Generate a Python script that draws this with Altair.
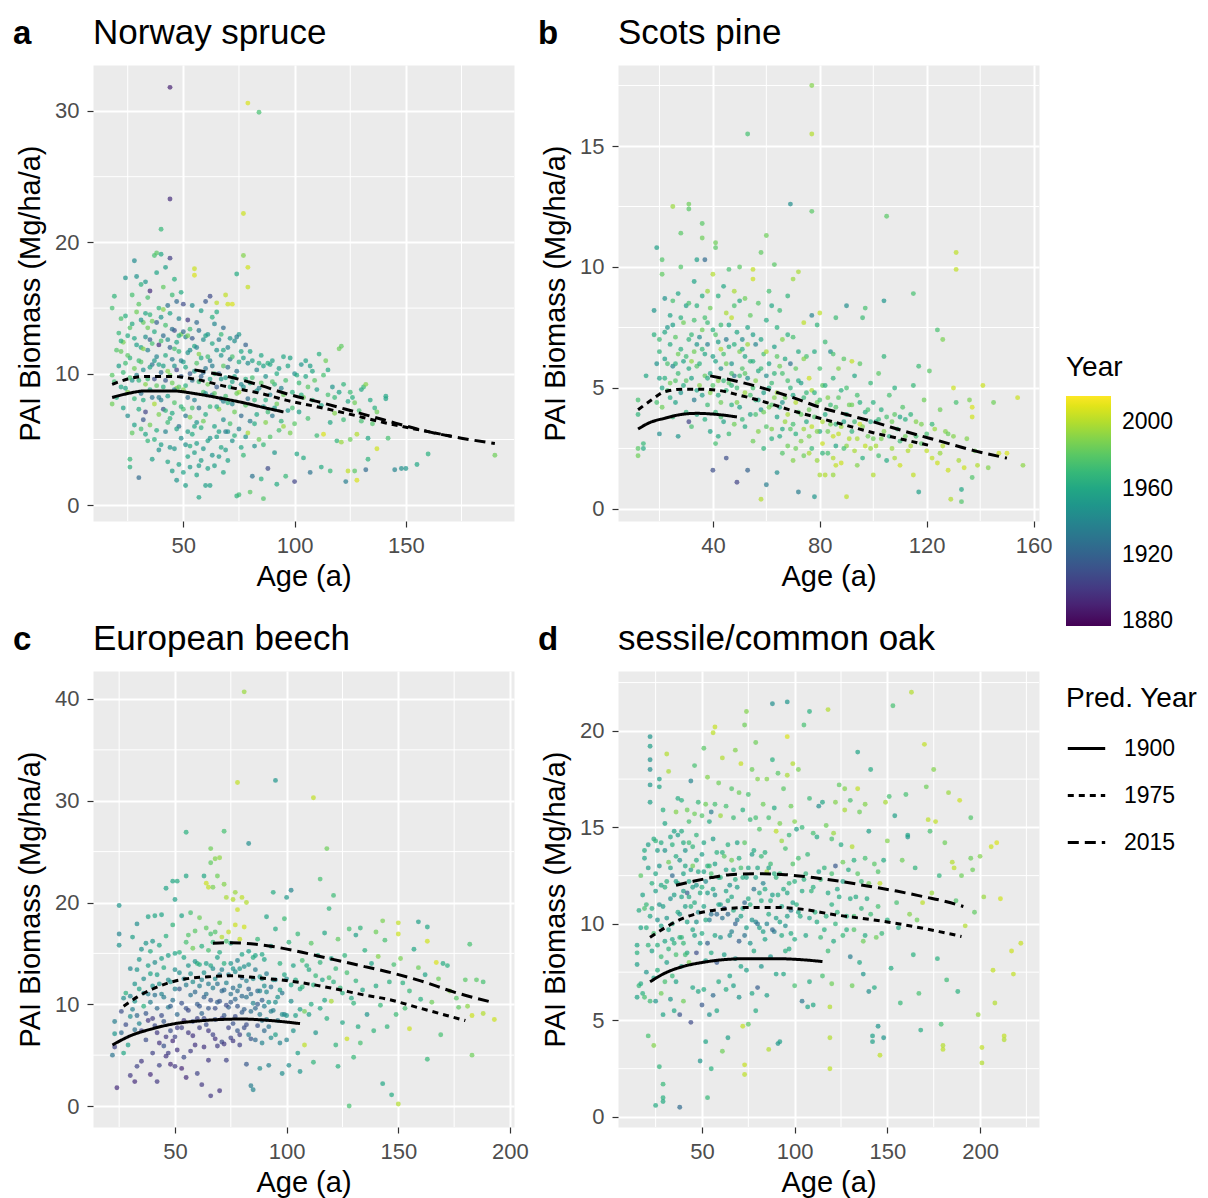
import altair as alt
import pandas as pd

FONT = "Liberation Sans"

# ---------------- Panel a: Norway spruce (age, PAI, year) ----------------
A_POINTS = [
    (18,15.0,1975),(19,15.9,1968),(18,9.9,1980),(18,7.7,1985),(19,9.4,1972),(20,8.2,1962),(20,11.8,1978),(21,13.1,1970),
    (21,10.6,1955),(22,11.7,1983),(22,9.0,1960),(22,14.2,1976),(23,12.4,1988),(23,7.4,1958),(24,14.4,1965),(24,10.8,1973),
    (24,17.3,1950),(25,8.6,1990),(25,12.9,1962),(25,6.8,1945),(26,13.5,1979),(26,11.2,1968),(26,3.5,1970),(26,2.9,1966),
    (27,9.5,1952),(27,16.0,1975),(27,5.5,1982),(28,12.7,1960),(28,18.6,1944),(28,6.1,1957),(29,14.7,1985),(29,9.9,1940),
    (29,17.4,1948),(30,2.1,1925),(30,7.3,1963),(30,11.0,1972),(30,15.3,1980),
    (31,16.8,1966),(31,12.0,1958),(31,8.5,1930),(31,5.8,1974),(32,13.9,1983),(32,10.3,1947),(32,6.5,1915),(33,17.0,1952),
    (33,14.6,1960),(33,9.2,1990),(33,7.1,1905),(34,11.8,1938),(34,15.8,1976),(34,4.9,1969),(35,16.3,1895),(35,12.6,1920),
    (35,8.8,1961),(35,6.1,1986),(36,14.0,1985),(36,10.7,1932),(36,3.5,1955),(37,19.0,1975),(37,13.2,1962),(37,9.6,1910),
    (37,7.7,1998),(38,17.7,1958),(38,11.3,1940),(38,5.7,1964),(38,19.2,1980),(39,15.0,1968),(39,12.2,1896),(39,8.2,1935),
    (39,6.9,1988),(40,21.0,1970),(40,19.1,1960),(40,14.3,1949),(40,10.1,1925),(40,4.6,1955),
    (41,16.6,1982),(41,12.9,1927),(41,9.0,1965),(41,7.3,1912),(42,18.1,1955),(42,13.7,1975),(42,11.4,1962),(42,5.6,1940),
    (43,15.2,1930),(43,10.2,1990),(43,8.3,1955),(43,3.3,1960),(44,31.8,1890),(44,23.3,1895),(44,18.8,1902),(44,14.6,1958),
    (44,12.0,1920),(44,6.6,1967),(45,16.0,1972),(45,11.1,1935),(45,9.3,1985),(45,2.6,1955),(46,17.2,1965),(46,13.3,1910),
    (46,10.6,1948),(46,7.8,1978),(46,4.3,1952),(47,15.5,1925),(47,12.4,1960),(47,8.9,1993),(47,1.9,1950),(48,14.2,1940),
    (48,11.7,1970),(48,6.0,1930),(48,3.1,1958),(49,16.2,1962),(49,13.0,1985),(49,9.8,1918),(49,5.1,1945),(50,15.3,1908),
    (50,10.9,1955),(50,7.3,1975),(50,2.5,1957),
    (51,12.8,1935),(51,9.1,1965),(51,4.6,1948),(51,1.5,1956),(52,14.1,1900),(52,11.6,1950),(52,8.2,1928),(52,3.7,1960),
    (53,13.4,1972),(53,10.0,1915),(53,6.7,1988),(53,2.9,1953),(54,15.2,1944),(54,9.5,1930),(54,5.4,1962),(55,18.0,2005),
    (55,17.5,2008),(55,12.1,1960),(55,8.0,1938),(55,4.0,1955),(56,13.9,1925),(56,10.8,1978),(56,6.3,1950),(56,2.3,1958),
    (57,11.5,1990),(57,7.4,1930),(57,3.0,1954),(57,0.6,1960),(58,14.8,1955),(58,9.8,1922),(58,5.9,1965),(59,12.6,1945),
    (59,8.6,1975),(59,4.3,1952),(60,10.4,1932),(60,6.9,1962),(60,1.5,1956),(60,15.5,1915),
    (61,13.0,1950),(61,9.2,1985),(61,4.9,1957),(62,15.9,1908),(62,11.0,1938),(62,7.5,1970),(62,1.5,1955),(63,12.3,1960),
    (63,8.4,1927),(63,3.8,1950),(64,13.8,1942),(64,10.0,1972),(64,6.0,1958),(65,14.7,1962),(65,9.0,1918),(65,5.2,1955),
    (65,15.4,2002),(66,12.6,1935),(66,7.3,1990),(66,3.7,1953),(67,11.4,1950),(67,8.1,1930),(67,4.4,1960),(68,13.5,1925),
    (68,10.6,1980),(68,6.5,1945),(68,2.5,1960),(69,16.0,2003),(69,9.7,1955),(69,5.6,1935),(70,15.3,2006),(70,12.0,1940),
    (70,7.8,1965),(70,3.4,1958),
    (71,11.1,1932),(71,6.2,1975),(72,15.3,2008),(72,9.4,1958),(72,4.9,1948),(73,12.5,1945),(73,7.1,1985),(74,17.6,1962),
    (74,10.2,1930),(74,0.7,1966),(75,13.0,1952),(75,8.6,1995),(75,5.8,1940),(75,0.8,1972),(76,11.7,1960),(76,6.8,1925),
    (77,22.2,2005),(77,19.0,1990),(77,9.0,1948),(77,3.8,1970),(78,12.2,1920),(78,7.6,1980),(79,30.6,2008),(79,18.1,2006),
    (79,16.6,2004),(79,10.8,1945),(79,5.5,1998),(80,9.3,1962),(80,6.4,1935),(80,1.0,1980),
    (81,2.2,1930),(81,11.0,1955),(82,8.0,1970),(82,4.5,1948),(83,10.3,1942),(83,6.9,1960),(84,29.9,1975),(84,8.9,1935),
    (84,5.0,1985),(85,11.4,1960),(85,2.0,1965),(86,7.5,1952),(86,4.6,1970),(86,0.5,1978),(87,9.8,1948),(87,6.3,1990),
    (88,10.8,1965),(88,2.8,1908),(89,8.4,1940),(89,5.2,1978),(90,11.0,1957),(90,6.8,1932),(91,9.2,1968),(91,4.0,1950),
    (92,7.7,1985),(92,1.6,1962),(93,10.4,1955),(93,5.7,1975),(94,8.9,1940),(95,11.3,1960),(95,6.0,1995),(96,9.5,1975),
    (96,2.2,1970),(97,7.2,1950),(98,11.2,1958),(98,5.5,1988),(99,8.6,1965),(100,10.0,1945),(100,6.2,1980),(100,1.8,1905),
    (101,3.9,1960),(102,9.3,1972),(102,7.1,1955),(103,10.7,1950),(104,8.2,1985),(104,3.6,1962),(105,9.8,1960),(106,6.6,1975),
    (107,10.6,1955),(107,2.5,1930),(108,8.0,1968),(109,9.5,1980),(110,5.3,1972),(111,11.5,1965),(112,7.6,1958),(112,2.9,1962),
    (113,5.4,2008),(114,11.0,1985),(115,8.4,1975),(116,6.3,1960),(116,2.6,1970),(117,9.0,1950),(118,7.0,1990),(119,4.9,1968),
    (120,8.6,1958),(120,11.9,1985),(121,12.1,1982),(121,4.8,1995),(122,6.5,1972),(123,1.8,1935),(124,2.6,2003),(124,7.9,1960),
    (125,5.0,1985),(126,8.2,1965),(127,2.6,1980),(128,5.4,2000),(128,1.9,2008),(129,7.2,1975),(130,8.8,1960),(131,9.0,1970),
    (132,9.2,1990),(132,2.7,1925),(133,5.1,1960),(133,3.5,1968),(135,6.2,1978),(136,7.4,1965),(137,7.1,1985),(137,4.3,2006),
    (141,8.3,1960),(141,8.1,1958),(142,5.1,1975),(145,2.7,1940),(148,2.8,1945),(150,2.8,1950),(155,3.1,1960),(160,3.9,1965),
    (190,3.8,1985),
]
A_POINTS_CORE = [
    (22,12.5,1965),(23,10.1,1972),(24,8.9,1958),(25,11.4,1980),(26,9.7,1975),(27,13.8,1962),(28,10.4,1985),(28,8.1,1970),
    (29,12.2,1955),(30,9.5,1968),(31,10.9,1978),(31,14.1,1950),(32,8.0,1962),(32,11.9,1990),(33,12.8,1945),(33,5.4,1960),
    (34,9.6,1972),(34,13.5,1985),(35,10.5,1958),(35,14.5,1968),(36,8.2,1930),(36,12.3,1975),(37,11.0,1952),(37,5.0,1965),
    (38,9.1,1982),(38,13.9,1920),(39,10.7,1960),(39,4.2,1948),(40,12.5,1975),(40,8.0,1938),(41,10.6,1955),(41,14.9,1990),
    (42,9.5,1915),(42,7.2,1968),(43,12.6,1945),(43,6.3,1972),(44,9.9,1985),(44,4.4,1950),(45,13.4,1928),(45,7.0,1962),
    (46,11.9,1975),(46,8.8,1935),(47,10.3,1905),(47,5.8,1958),(48,12.9,1962),(48,9.0,1980),(49,11.0,1940),(49,7.5,1968),
    (50,13.2,1925),(50,8.8,1990),(51,10.5,1960),(51,6.8,1932),(52,12.9,1985),(52,5.6,1955),(53,11.8,1945),(53,4.5,1962),
    (54,12.7,1915),(54,7.4,1975),(55,10.2,1952),(55,6.0,1960),(56,12.0,1940),(56,4.7,1956),(57,9.4,1970),(57,13.3,1930),
    (58,11.2,1962),(58,3.4,1955),(59,10.1,1925),(59,6.4,1985),(60,12.9,1955),(60,8.5,1945),(61,11.3,1972),(61,2.8,1957),
    (62,9.6,1960),(62,5.1,1950),(63,10.6,1935),(63,14.3,1965),(64,8.5,1980),(64,3.0,1955),(65,11.8,1948),(65,7.5,1962),
    (66,10.0,1920),(66,5.6,1958),(67,13.0,1970),(67,9.6,1952),(68,7.9,1938),(68,11.8,1960),(69,8.3,1975),(69,4.2,1956),
    (70,10.5,1930),(70,5.6,1945),(71,9.0,1962),(71,12.7,1950),(72,7.7,1940),(72,11.3,1975),(73,9.8,1958),(73,5.3,1966),
    (74,8.5,1985),(74,12.8,1935),(75,10.9,1962),(76,9.2,1942),(76,4.4,1960),(77,11.2,1955),(78,9.6,1965),(78,5.2,1950),
    (79,8.1,1930),(80,11.7,1958),(81,9.7,1975),(82,6.2,1962),(83,8.7,1950),(84,10.8,1965),(85,9.3,1980),(86,10.6,1958),
    (87,8.0,1965),(88,7.1,1972),(89,10.7,1960),(90,9.4,1978),(91,7.4,1955),(92,10.0,1962),(94,6.4,1968),(95,8.4,1985),
    (97,10.6,1960),(99,7.4,1975),(101,9.9,1962),(103,8.4,1965),(105,11.0,1958),(106,9.0,1980),(108,10.2,1960),(110,8.8,1955),
    (113,9.9,1975),(115,10.3,1962),(118,8.2,1970),(122,9.2,1968),(125,8.6,1972),(127,7.8,1985),(130,6.4,1975),(134,8.0,1962),
]
A_LINES = {
    "1900": [(18,8.2),(25,8.5),(33,8.7),(45,8.7),(55,8.5),(65,8.2),(77,7.8),(87,7.4),(95,7.1)],
    "1975": [(18,9.2),(25,9.6),(33,9.8),(45,9.8),(55,9.6),(70,9.0),(85,8.5),(96,8.0),(110,7.5),(123,7.0),(140,6.3),(160,5.6),(172,5.2)],
    "2015": [(55,10.3),(70,9.8),(85,9.1),(96,8.5),(110,7.9),(123,7.3),(140,6.5),(160,5.6),(175,5.1),(190,4.7)],
}

# ---------------- Panel b: Scots pine ----------------
B_POINTS = [
    (12,4.5,1975),(12,3.9,1968),(12,2.5,1980),(12,2.2,1985),(14,2.7,1970),(14,2.5,1962),(15,5.5,1960),(18,7.2,1965),
    (18,8.2,1950),(19,10.8,1955),(19,6.0,1948),(19,4.4,1975),(20,3.1,1945),(20,5.4,1958),(20,7.0,1972),(21,10.3,1978),
    (21,9.7,1982),(21,5.0,1960),(21,4.2,1985),(22,8.7,1948),(22,6.2,1955),(22,5.4,1965),(23,7.5,1952),(23,4.9,1976),
    (24,8.0,1958),(24,6.8,1962),(24,5.2,1985),(25,12.5,1995),(25,8.6,1975),(25,5.9,1942),(25,3.8,1970),(26,7.1,1980),
    (26,6.0,1965),(26,4.4,1958),(27,8.9,1960),(27,5.6,1972),(27,3.0,1950),(28,11.4,1980),(28,10.0,1978),(28,6.6,1965),
    (28,4.8,1950),(29,7.7,1985),(29,5.1,1962),(30,8.4,1955),(30,6.3,1972),(30,4.0,1968),
    (31,12.6,1985),(31,12.4,1980),(31,8.5,1975),(31,5.8,1962),(31,3.6,1905),(32,7.2,1970),(32,5.4,1958),(32,3.4,1975),
    (33,9.4,1958),(33,6.5,1985),(33,4.5,1935),(34,10.3,1955),(34,8.4,1965),(34,5.9,1978),(34,3.9,1962),(35,7.1,1945),
    (35,5.1,1990),(36,11.8,1980),(36,11.2,1985),(36,8.8,1962),(36,6.6,1970),(36,4.7,1955),(37,10.3,1925),(37,7.9,1975),
    (37,5.5,1982),(37,3.7,1965),(38,9.0,1995),(38,6.8,1940),(38,4.3,1972),(39,8.3,1985),(39,5.6,1960),(39,3.2,1958),
    (40,9.7,2000),(40,7.4,1965),(40,5.1,1978),(40,1.6,1910),(41,11.0,1985),(41,10.8,1980),(41,6.1,1958),(41,4.0,1970),
    (41,2.7,1975),(42,8.8,1965),(42,6.9,1955),(42,5.3,1990),(42,3.0,1962),(43,7.6,1972),(43,5.8,1948),(43,4.4,1985),
    (44,9.2,1960),(44,6.4,1975),(44,3.6,1958),(45,8.1,1998),(45,7.0,1935),(45,4.9,1968),(45,2.1,1910),
    (46,9.9,1975),(46,6.7,1962),(46,5.2,1980),(46,3.1,1972),(47,7.9,2002),(47,6.0,1950),(47,4.3,1965),(48,9.0,1998),
    (48,8.4,1975),(48,5.5,1935),(48,3.5,1985),(49,7.3,1960),(49,5.0,1972),(49,1.1,1905),(50,10.0,1980),(50,8.6,1962),
    (50,6.5,1988),(50,4.2,1958),(51,7.0,1945),(51,5.8,1978),(51,3.7,1970),(52,8.7,1985),(52,6.3,1960),(52,4.8,1995),
    (53,15.5,1975),(53,7.5,1958),(53,5.4,1948),(53,1.6,1920),(54,8.0,1982),(54,6.1,1968),(54,3.9,1960),(55,9.9,2003),
    (55,9.5,2005),(55,7.2,1955),(55,5.0,1975),(55,2.8,1985),(56,6.8,1940),(56,4.5,1968),(57,8.5,1978),(57,5.7,1962),
    (57,3.2,1990),(58,10.6,1982),(58,7.0,1960),(58,4.1,1950),(58,0.4,2000),(59,6.4,1975),(59,4.8,1955),(59,2.5,1968),
    (60,11.3,1985),(60,7.8,1962),(60,5.5,1945),(60,3.4,1978),(60,1.0,1935),
    (61,9.0,1975),(61,6.0,1958),(61,4.2,1988),(62,8.4,1960),(62,5.2,1972),(62,2.9,1965),(63,10.1,1980),(63,6.7,1955),
    (63,4.6,1990),(64,7.5,1965),(64,3.8,1958),(64,1.5,1945),(65,8.2,1972),(65,5.9,1985),(65,3.0,1962),(66,7.0,1990),
    (66,4.4,1950),(66,2.3,1978),(67,6.2,1962),(67,3.6,1995),(68,8.8,1968),(68,5.3,1975),(68,2.6,1985),(69,12.6,1945),
    (69,6.0,1930),(69,3.3,1980),(70,9.5,1995),(70,7.1,1975),(70,4.7,1960),(70,2.0,1990),(71,5.8,1982),(71,3.1,1965),
    (72,9.8,1998),(72,6.5,1962),(72,4.0,1978),(72,0.7,1935),(73,5.2,1955),(73,2.8,1990),(74,7.7,2002),(74,4.6,1970),
    (74,2.2,1985),(75,6.3,1975),(75,3.6,1962),(76,5.4,2005),(76,3.0,1988),(77,17.5,1990),(77,15.5,2000),(77,12.3,1980),
    (77,8.0,1940),(77,4.9,1998),(77,2.5,1970),(78,0.5,1950),(78,6.5,1962),(78,3.8,1978),(79,7.6,1968),(79,4.4,1985),
    (79,2.0,1995),(80,8.1,2002),(80,5.8,1975),(80,3.2,1960),(80,1.4,1998),
    (81,5.1,1980),(81,2.7,2005),(82,6.9,1972),(82,3.9,1962),(82,1.4,2000),(83,4.6,1990),(83,2.3,1975),(84,6.5,1945),
    (84,3.5,1985),(85,5.4,1968),(85,2.1,2000),(85,1.4,1995),(86,7.9,1972),(86,4.2,1978),(86,2.6,1960),(87,5.8,1990),
    (87,3.1,2003),(88,4.9,1965),(88,1.9,2005),(89,6.2,1980),(89,3.6,1958),(90,8.4,1945),(90,5.0,1975),(90,2.6,1992),
    (90,0.5,2002),(91,4.3,1985),(92,6.1,2003),(92,3.2,1968),(93,5.5,1960),(93,2.4,1998),(94,4.7,1975),(94,1.8,1990),
    (95,6.0,1980),(95,3.5,2005),(96,7.9,1972),(96,2.1,1965),(97,8.3,1975),(97,4.0,1962),(98,3.0,1985),(99,5.2,1970),
    (99,2.5,1995),(100,4.4,1965),(100,1.4,2000),
    (101,3.6,1958),(102,5.6,1980),(102,2.2,1975),(103,4.1,1965),(104,8.6,1950),(104,6.3,1968),(104,3.2,1990),(105,12.1,1980),
    (105,2.0,1962),(106,4.7,1975),(107,3.6,1985),(108,2.1,1998),(108,5.0,1965),(109,3.3,1972),(110,3.8,1960),(110,1.8,2005),
    (111,4.2,1978),(112,3.0,1985),(113,2.4,2000),(114,3.9,1968),(115,8.9,1975),(115,5.1,1970),(115,1.4,2003),(116,3.6,1990),
    (117,5.9,1972),(117,0.7,1955),(118,2.7,1980),(119,4.5,1985),(120,3.1,1975),(121,5.7,1980),(122,2.1,2003),(123,3.3,1995),
    (124,7.4,1975),(124,1.9,2005),(125,4.1,1985),(126,7.0,1988),(126,2.6,2000),(127,3.2,1990),(128,1.6,2005),(129,0.4,2000),
    (130,5.0,2005),(130,3.0,1990),(131,10.6,2002),(131,9.9,2003),(131,4.4,1975),(132,2.0,1998),(133,0.8,1960),(133,0.3,1978),
    (134,1.7,2005),(135,2.9,1990),(136,4.5,1988),(137,4.2,2008),(137,3.8,2006),(137,1.3,1978),(138,2.4,1985),(139,1.8,2000),
    (141,5.1,2005),(143,1.7,1990),(145,4.4,1985),(147,2.3,2005),(150,2.3,2008),(154,4.6,2005),(156,1.8,1992),
]
B_POINTS_CORE = [
    (20,6.5,1968),(22,7.3,1960),(23,6.0,1975),(24,4.6,1962),(25,7.6,1955),(26,5.3,1978),(27,6.4,1985),(28,7.9,1965),
    (29,6.1,1958),(30,5.3,1980),(31,7.0,1968),(32,6.1,1992),(33,7.8,1975),(34,6.8,1950),(35,6.0,1965),(36,7.4,1985),
    (37,6.4,1960),(38,7.7,1972),(39,4.8,1990),(40,6.3,1955),(41,7.2,1978),(42,4.7,1962),(43,6.6,1998),(44,5.3,1970),
    (45,6.0,1985),(46,7.6,1958),(47,5.6,1975),(48,6.8,1965),(49,4.4,1988),(50,5.5,1972),(51,6.6,1962),(52,5.6,1980),
    (53,6.8,1995),(54,4.7,1975),(55,6.1,1965),(56,5.3,1990),(57,4.5,1958),(58,5.8,1972),(59,4.0,1985),(60,6.5,1998),
    (61,5.0,1962),(62,4.3,1978),(63,5.6,1968),(64,4.8,1995),(65,4.2,1960),(66,5.6,1975),(67,4.6,1985),(68,3.9,1998),
    (69,5.0,1968),(70,3.5,1975),(71,4.4,2000),(72,5.3,1962),(73,3.9,1982),(74,3.3,1995),(75,4.8,1970),(76,4.1,1985),
    (77,3.4,2002),(78,4.8,1965),(79,3.2,1990),(80,4.5,1975),(81,3.6,1998),(82,5.1,1965),(83,3.2,1985),(84,4.3,1972),
    (85,3.0,2004),(86,3.5,1968),(87,4.6,1980),(88,3.4,1995),(89,2.5,1975),(90,3.9,1962),(91,2.9,2000),(92,4.3,1985),
    (93,3.6,1972),(94,2.9,1998),(95,4.4,1965),(96,3.4,1990),(97,2.6,2003),(98,4.1,1975),(99,3.6,1962),(100,2.9,1985),
    (101,2.6,1998),(102,3.7,1970),(103,2.9,1988),(105,3.8,1975),(106,3.0,1965),(107,2.5,1995),(108,3.9,1980),(110,2.8,1972),
    (112,3.7,1965),(114,2.6,1998),(116,3.0,1975),(118,3.5,1988),(120,2.4,2003),(122,3.5,1970),(125,2.3,1995),(128,3.1,1985),
    (34,4.9,1958),(38,5.4,1962),(43,3.8,1975),(47,5.1,1968),(52,3.4,1962),(56,3.9,1975),(62,3.3,1990),(66,3.3,1962),
    (71,2.5,1985),(76,2.3,1998),(81,2.3,1968),(86,1.8,2003),(64,6.3,1980),(68,7.2,1965),(74,6.2,1990),(85,6.4,1975),
]
B_LINES = {
    "1900": [(12,3.3),(16,3.55),(22,3.75),(28,3.9),(34,3.95),(42,3.9),(49,3.8)],
    "1975": [(12,4.1),(17,4.5),(22,4.85),(29,4.95),(35,4.95),(42,4.9),(50,4.7),(60,4.4),(70,4.05),(80,3.75),(90,3.45),(100,3.15),(110,2.9),(122,2.6)],
    "2015": [(39,5.5),(50,5.25),(60,4.95),(70,4.6),(80,4.2),(90,3.9),(100,3.6),(112,3.2),(125,2.8),(138,2.4),(150,2.1)],
}

# ---------------- Panel c: European beech ----------------
C_POINTS = [
    (22,5.0,1930),(23,5.8,1905),(23,7.1,1950),(23,8.3,1935),(24,1.8,1895),(25,19.7,1950),(25,16.9,1940),(25,15.8,1948),
    (26,9.3,1910),(26,7.2,1925),(27,10.6,1945),(27,5.2,1960),(28,11.1,1965),(29,6.0,1955),(30,3.0,1900),(30,8.8,1945),
    (30,13.5,1942),(31,9.5,1938),(31,16.6,1955),(32,2.4,1895),(32,10.3,1950),(32,7.5,1930),(33,17.9,1945),(33,13.4,1950),
    (33,3.9,1905),(34,8.1,1940),(34,11.5,1958),(35,15.4,1948),(35,4.4,1900),(36,9.8,1965),(36,12.5,1945),(37,16.0,1950),
    (37,6.5,1910),(38,8.4,1900),(38,13.8,1955),(38,18.6,1958),(39,3.1,1895),(39,10.2,1935),(39,15.2,1962),(40,5.2,1905),
    (40,11.8,1948),(40,16.2,1952),
    (41,18.7,1960),(41,7.9,1908),(41,14.1,1945),(42,2.4,1900),(42,9.6,1925),(42,12.9,1955),(43,15.8,1960),(43,6.2,1898),
    (43,4.0,1905),(44,18.8,1958),(44,11.0,1940),(45,13.6,1962),(45,5.9,1912),(45,8.3,1915),(46,16.7,1965),(46,21.4,1958),
    (46,4.9,1898),(47,14.8,1955),(47,9.7,1935),(47,5.2,1902),(48,12.2,1948),(48,7.4,1910),(48,4.1,1895),(49,22.1,1960),
    (49,17.8,1968),(49,10.4,1930),(50,20.3,1955),(50,13.4,1945),(50,6.8,1905),(50,3.9,1900),(51,22.1,1962),(51,9.0,1925),
    (51,5.5,1898),(52,15.1,1965),(52,11.5,1915),(53,18.7,1958),(53,7.7,1905),(53,3.7,1893),(54,12.5,1940),(54,4.8,1908),
    (55,26.9,1965),(55,22.6,1960),(55,16.1,1975),(55,9.6,1912),(55,2.8,1895),(56,13.8,1950),(56,7.2,1900),(57,19.0,1975),
    (57,10.9,1930),(57,5.4,1902),(58,15.5,1985),(58,12.2,1945),(58,8.3,1910),(59,17.2,1980),(59,6.0,1898),(60,14.0,1968),
    (60,10.0,1918),(60,3.2,1905),
    (61,18.5,1985),(61,11.8,1935),(61,7.7,1905),(62,15.7,1965),(62,9.1,1922),(62,2.1,1900),(63,22.6,1960),(63,13.1,1948),
    (63,5.8,1898),(64,21.9,2005),(64,17.5,1982),(64,11.0,1930),(64,8.0,1910),(65,21.5,2003),(65,15.3,1975),(65,9.6,1915),
    (65,4.5,1900),(66,25.3,1985),(66,23.9,1982),(66,13.8,1960),(66,1.0,1900),(67,21.5,1988),(67,16.1,1970),(67,11.6,1935),
    (67,7.0,1905),(68,24.3,1990),(68,17.1,1978),(68,12.5,1945),(68,8.5,1912),(69,22.6,1985),(69,14.6,1955),(69,10.2,1920),
    (69,5.9,1902),(70,24.4,1993),(70,18.0,1985),(70,12.9,1935),(70,1.5,1898),(71,16.6,2000),(71,11.3,1925),(71,6.3,1908),
    (72,27.0,1975),(72,21.8,1990),(72,14.0,1965),(72,8.9,1915),(73,20.5,1998),(73,12.1,1940),(73,4.5,1905),(74,17.1,2003),
    (74,9.7,1920),(75,16.0,1960),(75,11.0,1930),(75,6.7,1905),(76,20.3,2000),(76,13.5,1948),(76,8.1,1912),(77,21.0,1995),
    (77,17.8,2005),(77,10.5,1925),(78,31.8,2003),(78,19.3,2005),(78,14.3,1940),(78,7.4,1915),(79,16.4,2004),(79,11.8,1935),
    (79,6.0,1905),(80,20.5,2002),(80,12.6,1925),(80,9.2,1918),
    (81,40.7,1995),(81,17.6,2006),(81,13.7,1945),(81,7.7,1910),(82,20.0,2000),(82,10.7,1930),(82,4.1,1915),(83,25.8,1945),
    (83,15.2,1955),(83,11.5,1920),(83,7.0,1935),(84,9.3,1928),(84,2.0,1935),(85,14.6,1962),(85,10.1,1940),(85,1.6,1940),
    (86,13.4,1935),(86,6.5,1925),(87,16.4,1970),(87,11.3,1925),(87,7.9,1912),(88,12.7,1950),(88,9.0,1935),(88,3.7,1945),
    (89,14.9,1960),(89,10.4,1920),(89,6.2,1940),(90,11.8,1945),(90,7.4,1925),(91,18.6,1958),(91,13.0,1935),(91,8.5,1940),
    (92,10.2,1950),(92,4.0,1938),(93,15.7,1955),(93,11.7,1930),(93,6.7,1945),(94,9.4,1935),(94,21.0,1962),(95,32.0,1950),
    (95,17.4,1962),(95,12.4,1940),(95,7.0,1955),(96,10.7,1948),(97,14.0,1965),(97,6.2,1940),(98,11.1,1932),(98,3.2,1945),
    (99,18.4,1972),(99,9.0,1938),(100,20.5,1952),(100,12.5,1945),(100,6.5,1940),
    (101,16.1,1968),(101,4.0,1945),(102,21.2,1940),(102,10.3,1945),(103,13.8,1958),(104,8.9,1955),(105,16.9,1970),(105,5.2,1955),
    (106,11.5,1960),(106,3.4,1950),(107,14.3,1975),(108,9.3,1985),(108,6.0,2002),(110,13.4,1962),(110,9.0,1955),(111,16.0,1980),
    (112,30.3,2003),(112,11.9,1965),(112,4.3,1968),(113,7.2,1950),(114,14.8,1962),(115,22.3,1975),(115,9.6,1960),(116,12.4,1958),
    (117,17.0,1960),(118,25.3,1985),(118,8.6,1965),(119,19.4,1968),(120,10.3,1998),(120,14.5,1958),(121,20.7,1972),(121,12.2,1965),
    (122,6.0,1968),(123,16.4,1982),(123,3.9,1965),(124,11.6,1970),(125,8.2,1960),(126,14.8,1968),(127,6.6,2005),(128,17.4,1975),
    (128,0.0,1975),(129,10.6,1962),(130,4.8,1970),(131,16.8,1955),(131,12.3,1968),(132,7.8,1962),(133,17.5,1968),(133,6.2,1975),
    (134,11.4,1960),(135,15.3,1965),(136,9.0,1950),(138,14.0,1958),(139,7.4,1968),(140,11.8,1962),(140,17.1,1985),(141,14.7,1990),
    (142,9.9,1970),(143,18.2,1988),(143,2.2,1960),(144,16.3,1975),(145,7.8,1968),(146,12.2,1965),(147,1.1,1962),(148,13.9,1975),
    (149,9.0,1972),(150,18.0,2003),(150,16.9,2005),(150,0.2,2000),(151,14.5,1988),(152,12.1,1965),(153,9.6,1975),(155,11.3,1970),
    (155,7.6,2005),(157,15.4,1960),(159,13.6,1985),(159,18.1,1955),(160,10.5,1965),(162,12.9,1958),(163,17.6,1960),(163,16.2,2006),
    (163,4.6,1970),(165,10.2,1985),(167,14.1,2008),(168,12.5,1985),(169,7.0,1975),(170,14.0,1962),(172,13.8,1965),(173,11.3,1990),
    (176,10.6,1980),(177,9.7,1982),(180,12.4,1980),(181,9.8,1992),(182,15.9,1975),(183,5.0,1985),(183,8.9,2005),(185,12.4,1980),
    (188,12.2,1975),(188,9.1,2000),(193,8.5,2005),
]
C_POINTS_CORE = [
    (28,8.0,1910),(30,10.8,1940),(32,12.0,1950),(33,8.9,1925),(34,14.4,1952),(35,7.4,1905),(36,11.1,1945),(37,9.1,1915),
    (38,11.0,1938),(39,13.0,1958),(40,8.6,1902),(41,10.9,1930),(42,7.2,1900),(43,12.0,1950),(44,14.5,1955),(44,8.9,1910),
    (45,10.7,1935),(46,6.8,1900),(47,12.4,1945),(48,9.8,1920),(49,6.4,1895),(50,11.5,1938),(50,15.0,1958),(51,7.7,1902),
    (52,13.1,1945),(53,10.1,1912),(54,8.4,1900),(54,14.6,1960),(55,11.9,1935),(56,9.4,1908),(56,16.8,1978),(57,13.0,1945),
    (58,6.9,1898),(59,11.2,1925),(59,14.2,1952),(60,8.6,1905),(61,13.9,1962),(61,9.8,1915),(62,12.4,1940),(63,8.6,1908),
    (63,10.7,1920),(64,14.0,1955),(65,12.0,1935),(65,7.4,1900),(66,10.4,1912),(66,16.9,1975),(67,13.5,1945),(68,9.6,1910),
    (68,6.6,1898),(69,12.0,1930),(70,10.3,1915),(70,15.1,1962),(71,8.6,1905),(71,13.4,1940),(72,11.4,1925),(72,6.1,1900),
    (73,9.9,1910),(73,16.2,1975),(74,12.9,1938),(74,7.7,1905),(75,10.2,1918),(75,14.0,1950),(76,11.6,1928),(76,6.4,1900),
    (77,13.2,1945),(77,8.8,1910),(78,11.3,1930),(78,9.8,1915),(79,13.5,1952),(79,7.0,1905),(80,10.8,1925),(80,14.9,1958),
    (81,9.5,1920),(82,12.3,1938),(82,8.0,1910),(83,13.9,1950),(84,11.0,1928),(84,6.6,1915),(85,12.5,1945),(86,9.6,1925),
    (86,14.8,1960),(87,10.0,1918),(88,11.3,1940),(89,8.4,1930),(89,12.5,1948),(90,9.8,1935),(90,14.4,1958),(91,11.2,1942),
    (92,7.8,1930),(93,9.3,1938),(94,12.4,1950),(95,10.2,1945),(96,8.4,1935),(97,11.4,1955),(98,9.0,1945),(99,12.9,1960),
    (100,8.9,1950),(102,11.9,1958),(103,7.4,1948),(104,12.4,1962),(106,9.5,1955),(107,11.7,1968),(109,13.8,1965),(111,10.0,1962),
    (113,12.8,1970),(115,14.1,1968),(117,10.4,1960),(119,12.6,1975),(122,13.5,1970),(125,11.1,1965),(127,13.1,1975),(130,10.1,1968),
]
C_LINES = {
    "1900": [(22,6.0),(30,6.9),(40,7.6),(50,8.1),(60,8.35),(70,8.5),(80,8.55),(90,8.45),(100,8.25),(106,8.1)],
    "1975": [(27,9.8),(33,10.7),(40,11.5),(47,12.1),(55,12.5),(65,12.7),(76,12.8),(87,12.6),(97,12.4),(110,12.0),(122,11.5),(135,10.9),(145,10.5),(160,9.6),(170,9.0),(180,8.4)],
    "2015": [(67,16.0),(75,16.05),(84,15.95),(93,15.7),(103,15.3),(115,14.7),(125,14.2),(135,13.7),(145,13.2),(160,12.3),(175,11.2),(192,10.2)],
}

# ---------------- Panel d: sessile/common oak ----------------
D_POINTS = [
    (15,8.9,1960),(15,8.5,1965),(15,7.9,1955),(15,6.2,1958),(16,6.8,1970),(17,12.5,1980),(17,9.8,1958),(17,6.9,1962),
    (18,6.4,1965),(19,13.8,1962),(19,13.4,1958),(19,10.8,1975),(19,6.2,1975),(20,11.0,1970),(20,7.5,1950),(21,12.9,1955),
    (21,8.9,1968),(21,4.2,1975),(22,19.7,1950),(22,19.2,1955),(22,18.5,1948),(22,18.0,1945),(22,17.2,1952),(22,16.3,1955),
    (22,10.4,1960),(22,6.0,1972),(23,12.1,1965),(23,8.6,1958),(24,14.4,1962),(24,9.5,1975),(24,3.7,1990),(25,14.3,1968),
    (25,11.7,1955),(25,6.0,1950),(25,0.6,1962),(26,10.2,1948),(26,7.6,1965),(27,17.5,1955),(27,17.1,1960),(27,13.0,1952),
    (27,2.6,1968),(28,12.0,1960),(28,8.3,1972),(28,6.4,1985),(29,15.9,1965),(29,10.9,1955),(29,5.3,1958),(29,1.7,1970),
    (29,1.0,1965),(29,0.8,1962),(30,13.8,1950),(30,9.1,1960),(30,7.0,1975),
    (31,18.8,2000),(31,12.2,1965),(31,8.0,1955),(32,13.2,1985),(32,9.7,1958),(32,17.9,1998),(33,14.5,1960),(33,11.3,1948),
    (33,6.1,1952),(34,12.5,1925),(34,10.0,1962),(34,7.3,1970),(35,14.8,1958),(35,9.0,1965),(35,5.5,1960),(36,15.8,1990),
    (36,12.2,1955),(36,8.4,1975),(37,14.6,1955),(37,10.6,1962),(37,16.5,1962),(38,13.3,1950),(38,9.3,1968),(38,5.3,1912),
    (38,0.5,1925),(39,16.4,1965),(39,11.4,1958),(39,7.8,1960),(40,14.2,1962),(40,12.6,1958),(40,9.0,1970),(40,6.0,1985),
    (41,13.8,1950),(41,10.9,1955),(42,11.6,1920),(42,15.9,1985),(42,8.5,1962),(43,14.2,1972),(43,12.2,1960),(43,8.0,1988),
    (44,17.4,1940),(44,10.9,1965),(44,4.9,1908),(45,14.0,1968),(45,11.9,1955),(45,6.7,1960),(46,18.2,1975),(46,15.7,1985),
    (46,9.4,1958),(47,13.3,1962),(47,8.5,1910),(47,12.0,1952),(48,16.3,1970),(48,10.6,1945),(48,6.5,1960),(49,11.6,1962),
    (49,2.9,1950),(50,15.6,1978),(50,13.6,1955),(50,9.5,1962),(50,5.8,1915),
    (51,19.1,1980),(51,14.2,1960),(51,10.9,1958),(51,6.6,1962),(52,16.2,1985),(52,12.2,1945),(52,8.1,1955),(52,3.9,1958),
    (53,17.6,1990),(53,13.0,1965),(53,9.0,1920),(53,1.0,1970),(54,15.3,1962),(54,10.2,1935),(54,5.3,1948),(55,15.8,1935),
    (55,12.6,1975),(55,8.5,1962),(55,2.5,1965),(56,19.9,2002),(56,14.4,1955),(56,6.3,1925),(57,20.2,2004),(57,16.2,1975),
    (57,11.5,1950),(57,9.4,1960),(58,13.7,1965),(58,8.0,1915),(58,5.5,1960),(59,17.3,1985),(59,11.0,1958),(59,7.0,1962),
    (60,15.6,1995),(60,12.4,1965),(60,9.3,1950),(61,18.6,2000),(61,10.3,1930),(61,3.4,1985),(62,13.5,1980),(62,8.4,1955),
    (63,16.1,1975),(63,11.7,1958),(63,6.6,1962),(64,14.1,1965),(64,10.5,1925),(64,4.1,1955),(65,12.0,1948),(65,7.3,1958),
    (66,17.0,1978),(66,13.3,1985),(66,9.6,1940),(67,15.5,1972),(67,10.7,1962),(67,6.8,1955),(68,19.0,1990),(68,12.3,1965),
    (68,8.2,1948),(69,14.2,1958),(69,10.2,1935),(70,16.8,1985),(70,9.1,1920),(70,6.2,1950),(71,18.3,2004),(71,12.9,1975),
    (71,7.8,1958),(72,15.9,1965),(72,10.8,1960),(72,4.7,2003),(73,20.3,1985),(73,14.2,1980),(73,9.4,1930),(73,2.7,2004),
    (73,2.2,2002),(74,21.0,1990),(74,12.4,1958),(74,7.6,1955),(75,16.7,1975),(75,11.3,1962),(75,4.8,1980),
    (76,15.4,1970),(76,9.0,1950),(77,18.0,1985),(77,13.6,1955),(77,6.4,1960),(78,11.8,1930),(78,8.6,1962),(79,19.4,1985),
    (79,15.5,1975),(79,10.1,1940),(79,5.5,1962),(80,17.5,1990),(80,12.9,1960),(80,6.7,1918),(81,14.9,1978),(81,9.8,1955),
    (82,11.2,1962),(82,7.8,1950),(83,16.2,1985),(83,12.1,1940),(84,13.7,1965),(84,9.2,1958),(85,17.5,1990),(85,12.7,1998),
    (85,6.3,1955),(86,15.5,1975),(86,10.5,1962),(86,3.5,2000),(87,13.1,1972),(87,8.3,1950),(88,21.4,1945),(88,18.5,1965),
    (88,11.5,1955),(89,16.0,1962),(89,9.6,1935),(90,14.8,2002),(90,12.4,1968),(90,7.4,1958),(91,17.8,1980),(91,3.8,1950),
    (92,15.2,1988),(92,10.1,1958),(92,3.9,1955),(93,14.3,1995),(93,9.4,1962),(94,17.0,1980),(94,7.4,1960),(95,13.9,1975),
    (95,9.9,1945),(96,21.5,1950),(96,19.7,2008),(96,17.7,1998),(96,11.6,1960),(97,14.6,1970),(97,8.7,1962),(98,16.1,1985),
    (98,10.7,1935),(99,18.3,2000),(99,13.1,1978),(100,15.3,1990),(100,9.2,1962),(100,6.8,1975),
    (101,14.9,1955),(101,11.0,1965),(102,18.0,1988),(102,13.4,1975),(103,10.4,1962),(104,15.0,1970),(104,6.0,1932),(105,20.3,1975),
    (105,12.3,1965),(106,9.4,1960),(107,13.6,1970),(107,5.7,1958),(108,21.0,1965),(108,16.5,1972),(108,7.0,1962),(109,11.7,1968),
    (110,14.7,1975),(110,5.8,1960),(111,10.6,1965),(112,14.5,1962),(113,16.1,1945),(113,12.7,1958),(114,9.3,1970),(115,16.3,1960),
    (115,7.3,1975),(116,12.9,1968),(117,15.1,1985),(117,10.4,1965),(118,21.1,2000),(118,8.6,1972),(119,5.7,2000),(119,2.5,2002),
    (119,4.1,2000),(120,14.4,1975),(120,11.0,1965),(120,6.9,1985),(121,14.7,1995),(121,9.1,1962),(122,16.3,1990),(122,13.0,1915),
    (123,11.8,1960),(123,10.6,1968),(124,17.2,1982),(125,14.1,1962),(126,12.2,1958),(126,9.4,1970),(127,15.9,1998),(127,17.0,1990),
    (128,10.4,1965),(129,12.8,1962),(130,16.4,1975),(130,8.3,1935),(131,14.0,2000),(131,6.8,1985),(132,13.3,1965),(132,9.7,1978),
    (133,11.4,1962),(134,17.0,2003),(134,18.9,1958),(135,15.8,1985),(135,8.0,1960),(136,12.2,1970),(137,9.1,1985),(137,7.4,1950),
    (138,13.4,1975),(138,16.2,1990),(139,11.3,1962),(140,14.8,1955),(140,6.5,1945),
    (141,18.0,1962),(141,10.5,1972),(142,4.2,1955),(142,3.9,1955),(143,13.1,1980),(143,6.7,1962),(144,9.3,1985),(145,12.7,1978),
    (145,4.7,1950),(146,12.1,2003),(146,3.2,2002),(147,9.5,1970),(148,13.3,1962),(148,4.1,1950),(149,16.3,1998),(150,10.2,1965),
    (150,14.3,1990),(151,16.6,1975),(152,7.7,1962),(153,21.3,1975),(154,15.6,1955),(155,11.1,1975),(156,9.8,1962),(157,5.9,1970),
    (158,13.3,1985),(160,16.7,1975),(161,14.5,1950),(161,14.6,1958),(162,10.5,1990),(163,22.0,2000),(164,8.4,1965),(165,12.9,1968),
    (166,10.2,1985),(167,6.4,1975),(168,4.5,1962),(169,11.1,2002),(170,19.3,2003),(171,17.1,1985),(172,15.4,2002),(173,14.8,1975),
    (174,11.6,1995),(175,18.0,1990),(176,15.3,2003),(177,8.2,1965),(178,12.5,1968),(179,4.8,1975),(180,3.7,2000),(180,3.5,2002),
    (181,14.2,1985),(182,7.1,1972),(183,16.8,1995),(185,13.2,2000),(186,12.9,2002),(187,11.2,1978),(188,6.5,1965),(189,16.4,2005),
    (190,12.5,1985),(192,9.9,2000),(195,15.5,1978),(195,13.4,1985),(196,12.8,1985),(197,10.6,1982),(199,5.3,1995),(200,13.5,1990),
    (201,3.6,2003),(201,2.8,2000),(202,11.4,1995),(206,14.0,2005),(207,7.6,2003),(208,5.9,2000),(209,14.2,2008),(211,11.3,2006),
    (213,4.2,2003),(213,4.0,2000),(217,8.6,2005),(218,7.4,2003),(222,9.0,2004),
]
D_POINTS_CORE = [
    (16,10.7,1962),(18,11.5,1958),(20,9.8,1965),(21,14.1,1955),(23,10.8,1962),(24,7.2,1958),(25,12.6,1960),(26,13.8,1955),
    (26,8.9,1965),(27,11.0,1950),(28,14.2,1962),(28,9.9,1958),(30,11.9,1965),(30,15.2,1960),(31,10.3,1952),(32,8.7,1968),
    (33,12.9,1958),(34,14.1,1965),(34,9.2,1960),(35,11.5,1955),(36,13.5,1962),(36,7.0,1958),(37,12.1,1960),(38,10.5,1952),
    (39,14.8,1962),(39,9.3,1968),(40,11.7,1955),(41,13.0,1960),(41,8.4,1972),(42,10.1,1958),(43,11.4,1962),(43,15.3,1975),
    (44,12.8,1955),(45,9.7,1960),(45,13.0,1985),(46,11.1,1962),(47,14.6,1968),(47,10.1,1950),(48,12.7,1960),(49,9.0,1955),
    (50,11.9,1965),(51,12.7,1958),(52,10.2,1962),(53,11.6,1955),(54,13.0,1970),(55,10.5,1930),(56,11.8,1960),(57,13.1,1958),
    (58,10.5,1925),(59,12.4,1962),(60,11.0,1955),(61,13.7,1965),(62,10.8,1918),(63,12.8,1958),(64,11.2,1962),(65,9.4,1945),
    (66,11.4,1960),(67,12.8,1962),(68,10.0,1920),(69,11.9,1955),(70,13.4,1965),(71,10.4,1958),(72,12.4,1962),(73,11.1,1925),
    (74,9.8,1955),(75,12.9,1960),(76,11.0,1965),(77,10.2,1950),(78,13.8,1962),(79,12.4,1958),(80,10.0,1930),(81,11.6,1962),
    (82,13.5,1970),(83,9.6,1955),(84,11.8,1962),(85,10.0,1940),(86,12.9,1958),(87,11.2,1962),(88,9.7,1925),(89,12.6,1965),
    (90,10.3,1955),(91,11.5,1962),(92,12.6,1970),(93,10.9,1958),(94,11.8,1962),(95,8.6,1965),(96,10.4,1955),(97,12.1,1968),
    (98,9.5,1962),(99,11.1,1958),(100,12.2,1965),(102,10.6,1960),(104,11.7,1962),(106,12.6,1968),(108,10.3,1958),(110,11.9,1965),
    (112,10.1,1962),(114,12.3,1970),(116,9.7,1965),(118,11.6,1962),(120,12.6,1975),(122,10.0,1968),(124,11.4,1962),(126,13.2,1985),
    (128,9.7,1965),(130,11.3,1962),(132,10.4,1975),(134,12.6,1980),(136,10.8,1968),(138,9.4,1962),(140,12.1,1985),(145,10.9,1975),
]
D_LINES = {
    "1900": [(22,7.0),(30,7.45),(40,7.8),(50,8.0),(62,8.15),(75,8.2),(90,8.2),(103,8.15),(115,8.05)],
    "1975": [(22,9.3),(30,9.8),(40,10.3),(50,10.6),(60,10.75),(75,10.85),(90,10.85),(105,10.75),(120,10.5),(135,10.3),(150,10.1),(165,9.85),(178,9.6),(190,9.35)],
    "2015": [(36,12.0),(45,12.2),(55,12.4),(65,12.55),(80,12.6),(95,12.55),(110,12.4),(125,12.2),(140,11.95),(155,11.7),(170,11.4),(182,11.15),(191,10.9)],
}

PRED_YEARS = ["1900", "1975", "2015"]
YEAR_TICKS = [1880, 1920, 1960, 2000]

PANELS = [
    dict(letter="a", title="Norway spruce", pts=A_POINTS + A_POINTS_CORE, lines=A_LINES,
         xdom=[9.4, 198.6], ydom=[-1.2, 33.5], xt=[50, 100, 150], yt=[0, 10, 20, 30],
         xm=[25, 75, 125, 175], ym=[5, 15, 25]),
    dict(letter="b", title="Scots pine", pts=B_POINTS + B_POINTS_CORE, lines=B_LINES,
         xdom=[4.5, 162.0], ydom=[-0.5, 18.35], xt=[40, 80, 120, 160], yt=[0, 5, 10, 15],
         xm=[20, 60, 100, 140], ym=[2.5, 7.5, 12.5, 17.5]),
    dict(letter="c", title="European beech", pts=C_POINTS + C_POINTS_CORE, lines=C_LINES,
         xdom=[13.3, 201.8], ydom=[-2.06, 42.75], xt=[50, 100, 150, 200], yt=[0, 10, 20, 30, 40],
         xm=[25, 75, 125, 175], ym=[5, 15, 25, 35]),
    dict(letter="d", title="sessile/common oak", pts=D_POINTS + D_POINTS_CORE, lines=D_LINES,
         xdom=[4.7, 231.8], ydom=[-0.52, 23.1], xt=[50, 100, 150, 200], yt=[0, 5, 10, 15, 20],
         xm=[25, 75, 125, 175, 225], ym=[2.5, 7.5, 12.5, 17.5, 22.5]),
]

PW, PH = 421, 456


def make_panel(p):
    pts = pd.DataFrame(p["pts"], columns=["age", "pai", "year"])
    rows = []
    for py in PRED_YEARS:
        for a, v in p["lines"][py]:
            rows.append({"age": a, "pai": v, "pred": py})
    ldf = pd.DataFrame(rows)

    def X():
        return alt.X("age:Q", scale=alt.Scale(domain=p["xdom"], nice=False, zero=False),
                     axis=alt.Axis(values=p["xt"], title="Age (a)", format="d"))

    def Y():
        return alt.Y("pai:Q", scale=alt.Scale(domain=p["ydom"], nice=False, zero=False),
                     axis=alt.Axis(values=p["yt"], title="PAI Biomass (Mg/ha/a)", format="d"))

    minor_x = alt.Chart(pd.DataFrame({"age": p["xm"]})).mark_rule(
        color="white", strokeWidth=1).encode(x=X())
    minor_y = alt.Chart(pd.DataFrame({"pai": p["ym"]})).mark_rule(
        color="white", strokeWidth=1).encode(y=Y())

    points = alt.Chart(pts).mark_circle(size=24, fillOpacity=0.7, strokeWidth=0).encode(
        x=X(), y=Y(),
        color=alt.Color("year:Q",
                        scale=alt.Scale(scheme="viridis", domain=[1877, 2016]),
                        legend=alt.Legend(title="Year", values=YEAR_TICKS, format="d",
                                          orient="none", legendX=973, legendY=289,
                                          direction="vertical",
                                          gradientLength=230, gradientThickness=45,
                                          gradientStrokeWidth=0,
                                          titleFontSize=28, titleFont=FONT,
                                          titleFontWeight="normal", titleColor="black",
                                          titlePadding=14,
                                          labelFontSize=23, labelFont=FONT,
                                          labelColor="black", labelOffset=11,
                                          labelOverlap=False)),
    )

    lines = alt.Chart(ldf).mark_line(color="black", strokeWidth=3,
                                     interpolate="monotone").encode(
        x=X(), y=Y(),
        detail="pred:N",
        strokeDash=alt.StrokeDash(
            "pred:N",
            scale=alt.Scale(domain=PRED_YEARS, range=[[1, 0], [6, 5], [11, 6]]),
            legend=alt.Legend(title="Pred. Year", orient="none", legendX=973, legendY=620,
                              symbolType="stroke", symbolSize=1400,
                              symbolStrokeWidth=3, symbolStrokeColor="black",
                              titleFontSize=28, titleFont=FONT,
                              titleFontWeight="normal", titleColor="black",
                              titlePadding=15,
                              labelFontSize=23, labelFont=FONT, labelColor="black",
                              labelOffset=17, rowPadding=14)),
    )

    letter = alt.Chart(pd.DataFrame({"t": [p["letter"]]})).mark_text(
        align="left", baseline="alphabetic", fontSize=33, fontWeight="bold",
        font=FONT, color="black").encode(text="t:N", x=alt.value(-80), y=alt.value(-21))
    title = alt.Chart(pd.DataFrame({"t": [p["title"]]})).mark_text(
        align="left", baseline="alphabetic", fontSize=35, font=FONT,
        color="black").encode(text="t:N", x=alt.value(0), y=alt.value(-21))

    return alt.layer(minor_x, minor_y, points, lines, letter, title).properties(
        width=PW, height=PH)


panels = [make_panel(p) for p in PANELS]

chart = alt.concat(*panels, columns=2, spacing={"row": 150, "column": 104},
                   bounds="flush").properties(
    padding={"left": 4, "top": 7, "right": 0, "bottom": 0},
    background="white",
).configure_view(
    fill="#EBEBEB", stroke="transparent"
).configure_axis(
    domain=False, grid=True, gridColor="white", gridWidth=2,
    ticks=True, tickColor="#333333", tickSize=6, tickWidth=1.2,
    labelFont=FONT, labelFontSize=22, labelColor="#4D4D4D",
    titleFont=FONT, titleFontSize=29, titleFontWeight="normal", titleColor="black",
).configure_axisX(
    labelPadding=8, titlePadding=6
).configure_axisY(
    labelPadding=8, titlePadding=9
)

chart.save("out.html", embed_options={"renderer": "svg", "actions": False})
